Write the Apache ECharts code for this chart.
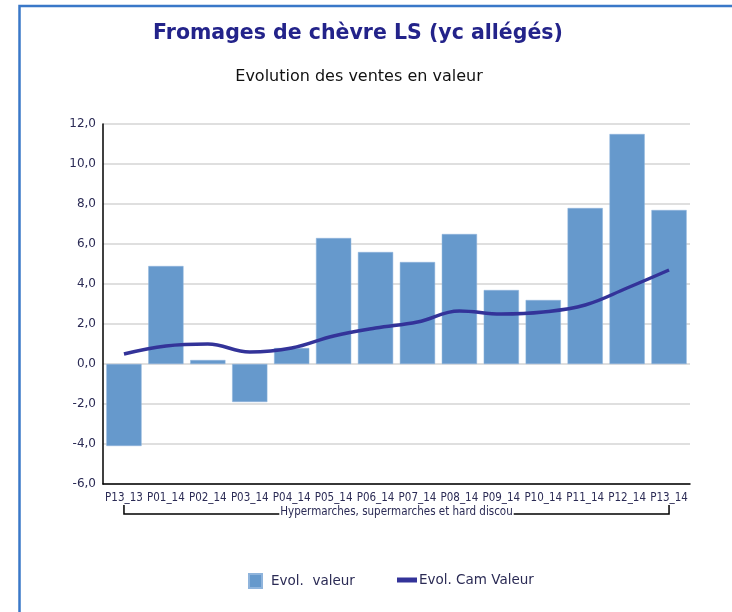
<!DOCTYPE html>
<html>
<head>
<meta charset="utf-8">
<script src="https://cdn.jsdelivr.net/npm/echarts@6/dist/echarts.min.js"></script>
<style>html,body{margin:0;padding:0;background:#fff;}#c{width:732px;height:612px;}</style>
</head>
<body>
<div id="c"></div>
<script>
var categories = ['P13_13','P01_14','P02_14','P03_14','P04_14','P05_14','P06_14','P07_14','P08_14','P09_14','P10_14','P11_14','P12_14','P13_14'];
var evolValeur = [-4.1, 4.9, 0.2, -1.9, 0.8, 6.3, 5.6, 5.1, 6.5, 3.7, 3.2, 7.8, 11.5, 7.7];
var evolCamValeur = [0.5, 0.9, 1.0, 0.6, 0.8, 1.4, 1.8, 2.1, 2.65, 2.5, 2.6, 2.95, 3.8, 4.7];
var yMin = -6, yMax = 12, yStep = 2;
var titleText = 'Fromages de chèvre LS (yc allégés)';
var subtitleText = 'Evolution des ventes en valeur';
var groupLabel = 'Hypermarches, supermarches et hard discou';
var seriesNames = ['Evol.  valeur', 'Evol. Cam Valeur'];

var chart = echarts.init(document.getElementById('c'), null, {renderer: 'canvas'});
var labelColor = '#2b2b55';
var option = {
  animation: false,
  backgroundColor: '#fff',
  grid: {left: 103, right: 42, top: 124, bottom: 128, containLabel: false},
  legend: [
    {data: [seriesNames[0]], left: 248, top: 573, padding: 0, itemWidth: 13, itemHeight: 14, icon: 'rect',
     textStyle: {fontFamily: 'DejaVu Sans', fontSize: 13.5, color: labelColor, padding: [0,0,0,4]}},
    {data: [seriesNames[1]], left: 397, top: 573, padding: 0, itemWidth: 20, itemHeight: 5, icon: 'rect', itemGap: 0,
     textStyle: {fontFamily: 'DejaVu Sans', fontSize: 13.5, color: labelColor, padding: [0,0,0,-3]}}
  ],
  xAxis: {
    type: 'category', data: categories,
    axisLine: {onZero: false, lineStyle: {color: '#000', width: 1.5}},
    axisTick: {show: false},
    axisLabel: {interval: 0, margin: 8, fontFamily: 'DejaVu Sans Condensed', fontSize: 11.5, color: labelColor}
  },
  yAxis: {
    type: 'value', min: yMin, max: yMax, interval: yStep,
    axisLine: {show: true, lineStyle: {color: '#000', width: 1.5}},
    axisTick: {show: false},
    splitLine: {lineStyle: {color: '#d4d4d4', width: 1.5}},
    axisLabel: {margin: 7, fontFamily: 'DejaVu Sans', fontSize: 12, color: labelColor,
      formatter: function (v) { return v.toFixed(1).replace('.', ','); }}
  },
  series: [
    {name: seriesNames[0], type: 'bar', data: evolValeur, barCategoryGap: '16%',
     itemStyle: {color: '#6699cc', borderColor: '#8fb4dc', borderWidth: 0.5}, z: 2},
    {name: seriesNames[1], type: 'line', data: evolCamValeur, smooth: 0.4, symbol: 'none',
     lineStyle: {color: '#333399', width: 3.5}, itemStyle: {color: '#333399'}, z: 3}
  ]
};
chart.setOption(option);

var x0 = chart.convertToPixel({xAxisIndex: 0}, 0);
var x1 = chart.convertToPixel({xAxisIndex: 0}, categories.length - 1);
var yTop = 505, yLine = 514;
chart.setOption({
  graphic: [
    {type: 'rect', shape: {x: 19.5, y: 6, width: 800, height: 700}, style: {fill: 'none', stroke: '#3a78c8', lineWidth: 2.5}, silent: true},
    {type: 'text', style: {x: 358, y: 34, text: titleText, textAlign: 'center', textVerticalAlign: 'middle',
      font: 'bold 20.5px "DejaVu Sans"', fill: '#23238a'}},
    {type: 'text', style: {x: 359, y: 77, text: subtitleText, textAlign: 'center', textVerticalAlign: 'middle',
      font: '16px "DejaVu Sans"', fill: '#111'}},
    {type: 'polyline', shape: {points: [[x0, yTop], [x0, yLine], [x1, yLine], [x1, yTop]]}, style: {stroke: '#000', lineWidth: 1.5, fill: 'none'}},
    {type: 'text', z: 10, style: {x: (x0 + x1) / 2, y: yLine - 2, text: groupLabel, textAlign: 'center', textVerticalAlign: 'middle',
      font: '11.5px "DejaVu Sans Condensed"', fill: labelColor, backgroundColor: '#fff', padding: [0, 1]}}
  ]
});
</script>
</body>
</html>
